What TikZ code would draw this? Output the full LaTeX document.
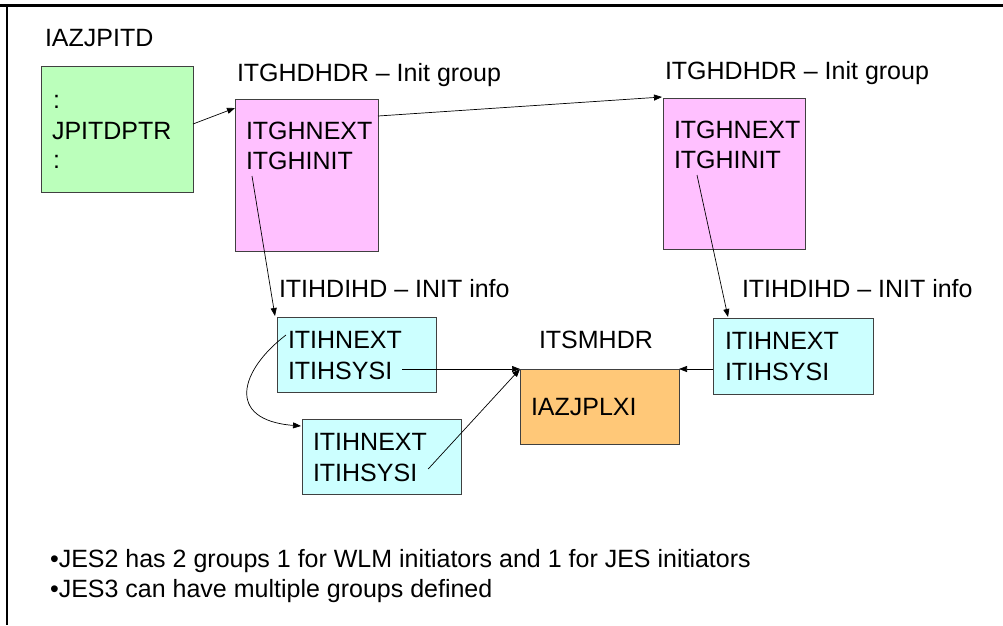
\documentclass[tikz,border=0pt]{standalone}
\usepackage{fontspec}
\setmainfont{Liberation Sans}
\usetikzlibrary{arrows.meta}
\definecolor{gbox}{RGB}{187,255,187}
\definecolor{pbox}{RGB}{255,192,255}
\definecolor{cbox}{RGB}{204,255,255}
\definecolor{obox}{RGB}{255,200,120}
\tikzset{
  box/.style={draw=black!75, line width=0.8pt, inner sep=0pt, outer sep=0pt},
  txt/.style={inner sep=0pt, outer sep=0pt, anchor=base west, font=\fontsize{25}{30}\selectfont},
  conn/.style={line width=0.7pt, -{Triangle[length=8pt,width=6pt]}}
}
\begin{document}
\begin{tikzpicture}[x=1pt,y=-1pt]
\useasboundingbox (0,0) rectangle (1003,625);
% frame
\draw[line width=3pt] (0,5) -- (1003,5);
\draw[line width=1.5pt] (7,5) -- (7,625);

% boxes
\node[box, fill=gbox, minimum width=152pt, minimum height=126pt] (green) at (117,129) {};
\node[box, fill=pbox, minimum width=143pt, minimum height=152pt] (pink1) at (306.5,175) {};
\node[box, fill=pbox, minimum width=142pt, minimum height=151pt] (pink2) at (734,173.5) {};
\node[box, fill=cbox, minimum width=159pt, minimum height=75pt] (cyan1) at (356.5,354.5) {};
\node[box, fill=cbox, minimum width=159pt, minimum height=75pt] (cyan2) at (381.5,456.5) {};
\node[box, fill=cbox, minimum width=160pt, minimum height=76pt] (cyan3) at (793,356) {};
\node[box, fill=obox, minimum width=159pt, minimum height=75pt] (orange) at (599.5,406.5) {};

% labels
\node[txt] (lazj) at (45,46) {IAZJPITD};
\node[txt] (lgrp1) at (237,81) {ITGHDHDR -- Init group};
\node[txt] (lgrp2) at (665,79) {ITGHDHDR -- Init group};
\node[txt] (linf1) at (279,297) {ITIHDIHD -- INIT info};
\node[txt] (linf2) at (742,297) {ITIHDIHD -- INIT info};
\node[txt] (lsm) at (539,348) {ITSMHDR};

% box texts
\node[txt] (gc1) at (53,108) {:};
\node[txt] (gptr) at (52,139) {JPITDPTR};
\node[txt] (gc2) at (53,168) {:};
\node[txt] (gnext1) at (246,139) {ITGHNEXT};
\node[txt] (ginit1) at (246,169) {ITGHINIT};
\node[txt] (gnext2) at (674,138) {ITGHNEXT};
\node[txt] (ginit2) at (674,168) {ITGHINIT};
\node[txt] (inext1) at (288,348) {ITIHNEXT};
\node[txt] (isys1) at (288,379) {ITIHSYSI};
\node[txt] (inext2) at (313,450) {ITIHNEXT};
\node[txt] (isys2) at (313,481) {ITIHSYSI};
\node[txt] (inext3) at (725,349) {ITIHNEXT};
\node[txt] (isys3) at (725,380) {ITIHSYSI};
\node[txt] (plxi) at (531,415) {IAZJPLXI};

% bullets
\node[txt] (b1) at (50,567) {\textbullet JES2 has 2 groups 1 for WLM initiators and 1 for JES initiators};
\node[txt] (b2) at (50,597) {\textbullet JES3 can have multiple groups defined};

% connectors
\draw[conn] ([yshift=5pt]green.east) -- ([yshift=-9pt]pink1.north west);
\draw[conn] ([yshift=-17pt]pink1.north east) -- ([xshift=-1pt,yshift=1pt]pink2.north west);
\draw[conn] ([xshift=6pt,yshift=-7pt]ginit1.base west) -- ([xshift=-2pt,yshift=1pt]cyan1.north west);
\draw[conn] ([xshift=23pt,yshift=-7pt]ginit2.base west) -- ([xshift=15pt,yshift=1pt]cyan3.north west);
\draw[conn] ([xshift=10pt,yshift=10pt]isys1.base east) -- (orange.north west);
\draw[conn] ([xshift=11pt,yshift=12pt]isys2.base east) -- (orange.north west);
\draw[conn] ([yshift=-13pt]cyan3.west) -- (orange.north east);
\draw[conn] ([xshift=-2pt,yshift=13pt]inext1.base west) .. controls (240,370) and (225,420) .. ([xshift=-1pt,yshift=-7pt]cyan2.north west);
\end{tikzpicture}
\end{document}
